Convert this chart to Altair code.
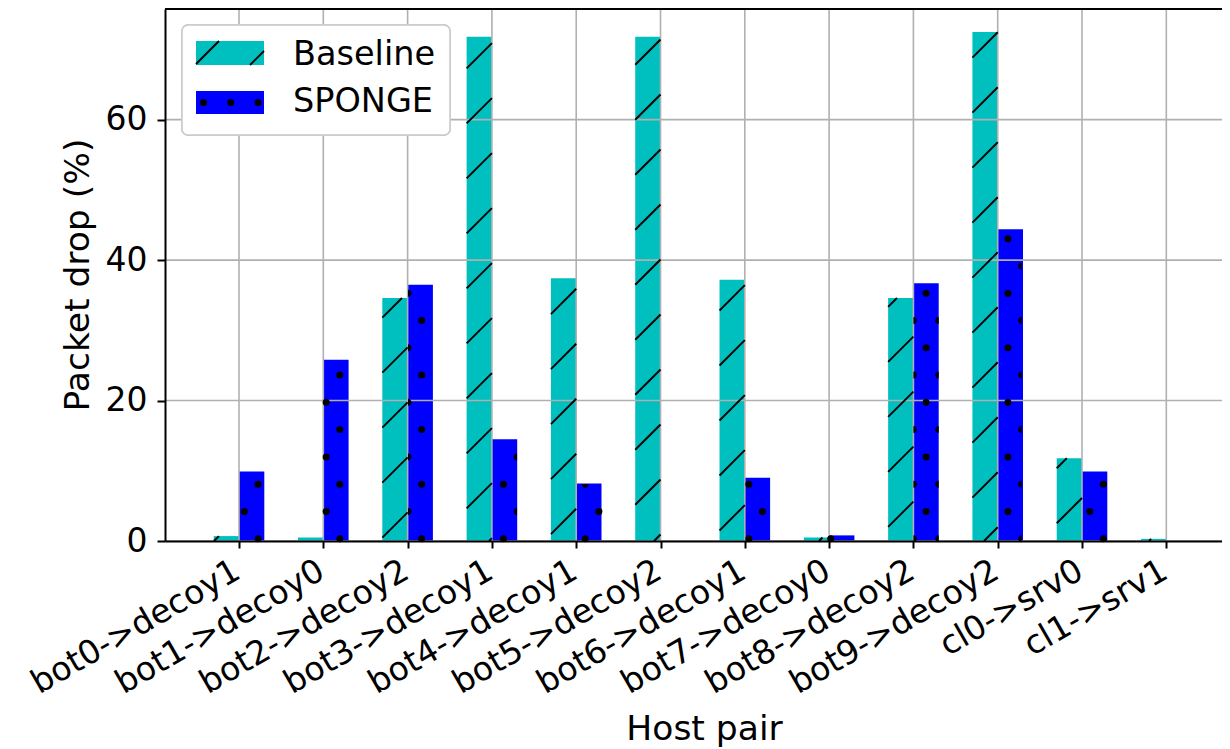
import altair as alt
import pandas as pd
import numpy as np

# ---------------- data ----------------
categories = ["bot0->decoy1", "bot1->decoy0", "bot2->decoy2", "bot3->decoy1",
              "bot4->decoy1", "bot5->decoy2", "bot6->decoy1", "bot7->decoy0",
              "bot8->decoy2", "bot9->decoy2", "cl0->srv0", "cl1->srv1"]
baseline = [0.7, 0.5, 34.6, 71.8, 37.4, 71.8, 37.2, 0.5, 34.6, 72.5, 11.8, 0.3]
sponge = [9.9, 25.8, 36.5, 14.5, 8.2, 0.0, 9.0, 0.8, 36.7, 44.4, 9.9, 0.0]
series = ["Baseline", "SPONGE"]
colors = ["#00BFBF", "#0000FF"]
y_ticks = [0, 20, 40, 60]

# ---------------- layout ----------------
W, H = 1057, 532
PX = 84.3                  # pixels per category unit
X0 = -0.878
XMAX = X0 + W / PX
YMAX = 75.76
PY = H / YMAX
BAR_W = 0.3

# hatch pattern (pixel space, plot coords)
C0, HSTEP = 31.0, 55.0           # "/" lines: px + py = C0 + k*HSTEP
ROW0, ROWSTEP = 529.7, 27.27     # dot rows
COL0, COLSTEP = 93.0, 27.27      # dot columns
R = 3.5
RIGHT = "M0,-1A1,1,0,0,1,0,1Z"
LEFT = "M0,-1A1,1,0,0,0,0,1Z"
BOTTOM = "M-1,0A1,1,0,0,0,1,0Z"


def to_px(u):
    return (u - X0) * PX


def from_px(p):
    return p / PX + X0


def to_py(v):
    return H - v * PY


def from_py(p):
    return (H - p) / PY


def hatch_segments(xl, xr, yt, yb):
    segs = []
    kmin = int(np.floor((xl + yt - C0) / HSTEP)) - 1
    kmax = int(np.ceil((xr + yb - C0) / HSTEP)) + 1
    for k in range(kmin, kmax + 1):
        c = C0 + HSTEP * k
        a = max(xl, c - yb)
        b = min(xr, c - yt)
        if b - a > 0.8:
            segs.append((a, c - a, b, c - b))
    return segs


def dot_positions(xl, xr, yt, yb):
    out = []
    for j in range(0, 40):
        py = ROW0 - ROWSTEP * j
        if py < yt - 0.5 or py > yb + 1:
            continue
        off = COL0 + (COLSTEP / 2) * (j % 2)
        kmin = int(np.floor((xl - R - off) / COLSTEP))
        kmax = int(np.ceil((xr + R - off) / COLSTEP))
        for k in range(kmin, kmax + 1):
            px = off + COLSTEP * k
            if px < xl - 0.6 * R or px > xr + 0.6 * R:
                continue
            if px <= xl + 1.5:
                out.append((max(px, xl), py, RIGHT))
            elif px >= xr - 1.5:
                out.append((min(px, xr), py, LEFT))
            elif py < yt + 1.5:
                out.append((px, max(py, yt), BOTTOM))
            else:
                out.append((px, py, "circle"))
    return out


# ---------------- tables ----------------
bars = []
hatch = []
dots = []


def add_patch(s, xl, xr, yt, yb):
    if s == series[0]:
        for a, ya, b, yb2 in hatch_segments(xl, xr, yt, yb):
            hatch.append({"u1": from_px(a), "v1": from_py(ya),
                          "u2": from_px(b), "v2": from_py(yb2)})
    else:
        for px, py, shp in dot_positions(xl, xr, yt, yb):
            dots.append({"u": from_px(px), "v": from_py(py), "shp": shp})


for i, cat in enumerate(categories):
    for s, vals, lo, hi in [(series[0], baseline, i - BAR_W, i),
                            (series[1], sponge, i, i + BAR_W)]:
        v = vals[i]
        bars.append({"lo": lo, "hi": hi, "v": v, "zero": 0.0, "series": s})
        if v > 0:
            add_patch(s, to_px(lo), to_px(hi), to_py(v), H)

# legend (laid out in plot pixels, converted to the shared scales)
LEG_BOX = (17, 285, 16, 126)
PATCHES = [(31, 99, 32, 56), (31, 99, 82, 105)]
TEXT_X = 128
TEXT_Y = [56, 102.7]
leg_rows = []
for p, s in zip(PATCHES, series):
    leg_rows.append({"lo": from_px(p[0]), "hi": from_px(p[1]),
                     "v": from_py(p[2]), "zero": from_py(p[3]), "series": s})
    add_patch(s, *p)
leg_patch_df = pd.DataFrame(leg_rows)
leg_text_df = pd.DataFrame({"label": series,
                            "u": [from_px(TEXT_X)] * 2,
                            "v": [from_py(t) for t in TEXT_Y]})

bars_df = pd.DataFrame(bars)
hatch_df = pd.DataFrame(hatch)
dots_df = pd.DataFrame(dots)
vgrid_df = pd.DataFrame({"g": list(range(len(categories)))})
hgrid_df = pd.DataFrame({"t": y_ticks})

# ---------------- scales / axes ----------------
xs = alt.Scale(domain=[X0, XMAX], nice=False, zero=False)
ys = alt.Scale(domain=[0, YMAX], nice=False, zero=False)
FONT = "DejaVu Sans"
label_expr = "[" + ",".join("'" + c + "'" for c in categories) + "][datum.value]"

x_axis = alt.Axis(values=list(range(len(categories))), labelExpr=label_expr,
                  labelAngle=-30, labelAlign="right", labelBaseline="top",
                  labelFontSize=33, labelFont=FONT, labelColor="black",
                  labelPadding=6, labelOffset=-10, labelLimit=600,
                  labelOverlap=False, labelFlush=False, labelBound=False,
                  tickSize=7, tickWidth=2, tickColor="black",
                  domainColor="black", domainWidth=2, grid=False,
                  title="Host pair", titleFont=FONT, titleFontSize=34.5,
                  titleFontWeight="normal", titleColor="black",
                  titleX=539, titleY=198, titleAlign="center",
                  titleBaseline="alphabetic", zindex=1)
y_axis = alt.Axis(values=y_ticks, labelFontSize=33, labelFont=FONT, labelColor="black",
                  labelPadding=10, tickSize=8, tickWidth=2, tickColor="black",
                  domainColor="black", domainWidth=2, grid=False,
                  title="Packet drop (%)", titleFont=FONT, titleFontSize=34.5,
                  titleFontWeight="normal", titleColor="black",
                  titleX=-76.5, titleY=265.5, titleAngle=270, titleAlign="center",
                  titleBaseline="alphabetic", zindex=1)

color = alt.Color("series:N", scale=alt.Scale(domain=series, range=colors), legend=None)


def X(field):
    return alt.X(field, scale=xs, axis=x_axis)


def Y(field):
    return alt.Y(field, scale=ys, axis=y_axis)


bars_layer = alt.Chart(bars_df).mark_rect().encode(
    x=X("lo:Q"), x2="hi:Q", y=Y("v:Q"), y2="zero:Q", color=color)

hatch_layer = alt.Chart(hatch_df).mark_rule(color="black", strokeWidth=1.9).encode(
    x=X("u1:Q"), x2="u2:Q", y=Y("v1:Q"), y2="v2:Q")

dots_layer = alt.Chart(dots_df).mark_point(filled=True, color="black", opacity=1,
                                           size=49, strokeWidth=0).encode(
    x=X("u:Q"), y=Y("v:Q"), shape=alt.Shape("shp:N", scale=None))

vgrid = alt.Chart(vgrid_df).mark_rule(color="#b0b0b0", strokeWidth=1.6).encode(x=X("g:Q"))
hgrid = alt.Chart(hgrid_df).mark_rule(color="#b0b0b0", strokeWidth=1.6).encode(y=Y("t:Q"))

top_line = alt.Chart(hgrid_df).mark_rule(color="black", strokeWidth=2).encode(
    x=alt.value(0), x2=alt.value(W), y=alt.value(0))

leg_box = alt.Chart(hgrid_df).mark_rect(fill="white", fillOpacity=0.8, stroke="#cccccc",
                                        strokeWidth=1.5, cornerRadius=6).encode(
    x=alt.value(LEG_BOX[0]), x2=alt.value(LEG_BOX[1]),
    y=alt.value(LEG_BOX[2]), y2=alt.value(LEG_BOX[3]))

leg_patch = alt.Chart(leg_patch_df).mark_rect().encode(
    x=X("lo:Q"), x2="hi:Q", y=Y("v:Q"), y2="zero:Q", color=color)

leg_text = alt.Chart(leg_text_df).mark_text(font=FONT, fontSize=33.5, align="left",
                                            baseline="alphabetic", color="black").encode(
    x=X("u:Q"), y=Y("v:Q"), text="label:N")

chart = alt.layer(
    bars_layer, vgrid, hgrid, top_line, leg_box, leg_patch,
    hatch_layer, dots_layer, leg_text,
).properties(
    width=W, height=H,
    autosize=alt.AutoSizeParams(type="none"),
    padding={"left": 157, "top": 1, "right": 0, "bottom": 207},
).configure_view(stroke=None).configure(font=FONT)

chart.save("out.html", embed_options={"renderer": "svg", "actions": False})
